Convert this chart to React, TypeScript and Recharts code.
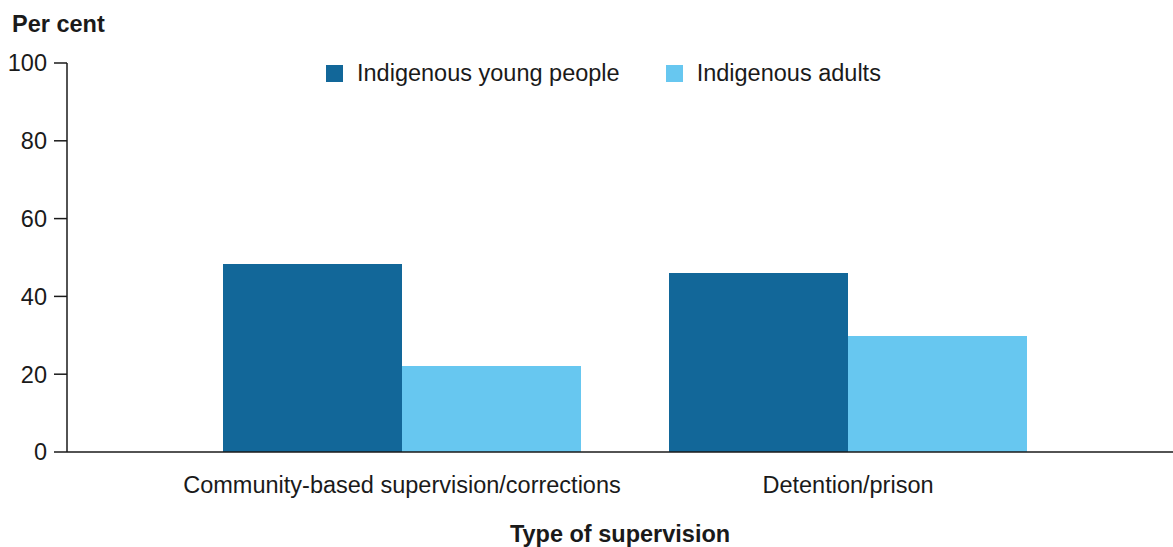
import React from "react";
import { BarChart, Bar, XAxis, YAxis, Legend, Label } from "recharts";

const categories = ["Community-based supervision/corrections", "Detention/prison"];
const youngPeople = [48.3, 46.0];
const adults = [22.1, 29.8];
const yTicks = [0, 20, 40, 60, 80, 100];

const seriesNames = ["Indigenous young people", "Indigenous adults"];
const colors = ["#126799", "#67c7f0"];

const data = categories.map((c, i) => ({ name: c, young: youngPeople[i], adults: adults[i] }));

const FONT = "'Liberation Sans', Arial, sans-serif";
const FS = 23.5;

const LegendContent = () => (
  <div style={{ display: "flex", alignItems: "center", fontFamily: FONT, fontSize: FS, color: "#1a1a1a", height: 26 }}>
    {seriesNames.map((n, i) => (
      <div key={n} style={{ display: "flex", alignItems: "center", marginRight: i === 0 ? 46 : 0 }}>
        <span style={{ width: 17, height: 17, background: colors[i], display: "inline-block", marginRight: 14 }} />
        <span>{n}</span>
      </div>
    ))}
  </div>
);

export default function App() {
  return (
    <div style={{ position: "absolute", left: 0, top: 0, width: 1173, height: 547, background: "#fff" }}>
      <BarChart
        width={1173}
        height={547}
        data={data}
        margin={{ top: 37, right: 0, bottom: 0, left: 0 }}
        barGap={0}
        barCategoryGap={44}
      >
        <XAxis
          dataKey="name"
          tickLine={false}
          axisLine={{ stroke: "#1a1a1a", strokeWidth: 1.5 }}
          padding={{ left: 112, right: 102 }}
          tick={{ fill: "#1a1a1a", fontSize: FS, fontFamily: FONT }}
          tickMargin={18}
          height={95}
        >
          <Label
            value="Type of supervision"
            position="insideBottom"
            offset={5}
            style={{ fill: "#1a1a1a", fontSize: FS, fontWeight: "bold", fontFamily: FONT }}
          />
        </XAxis>
        <YAxis
          domain={[0, 100]}
          ticks={yTicks}
          width={67}
          tickSize={13}
          tickMargin={7}
          tickLine={{ stroke: "#1a1a1a", strokeWidth: 1.5 }}
          axisLine={{ stroke: "#1a1a1a", strokeWidth: 1.5 }}
          tick={{ fill: "#1a1a1a", fontSize: FS, fontFamily: FONT }}
        >
          <Label
            content={() => (
              <text x={12} y={32} fill="#1a1a1a" fontSize={FS} fontWeight="bold" fontFamily={FONT}>
                Per cent
              </text>
            )}
          />
        </YAxis>
        <Legend
          verticalAlign="top"
          content={<LegendContent />}
          wrapperStyle={{ top: 60, left: 326, width: "auto" }}
        />
        <Bar dataKey="young" name={seriesNames[0]} fill={colors[0]} isAnimationActive={false} />
        <Bar dataKey="adults" name={seriesNames[1]} fill={colors[1]} isAnimationActive={false} />
      </BarChart>
    </div>
  );
}
